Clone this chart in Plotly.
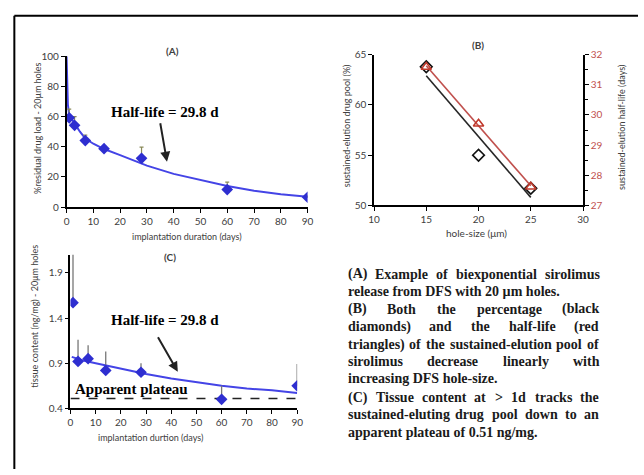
import plotly.graph_objects as go

# ---------------- data ----------------
# Panel A: residual drug load (%) vs implantation duration (days)
a_days = [1, 3, 7, 14, 28, 60, 90]
a_load = [59.2, 54.2, 44.1, 38.7, 32.3, 11.6, 6.5]
a_err_plus = [5.8, 5.8, 3.6, 1.3, 7.5, 5.0, 0.8]
a_fit_days = [0, 0.2, 0.5, 1, 2, 3, 5, 7, 10, 14, 20, 30, 40, 50, 60, 70, 80, 90]
a_fit_load = [100, 82, 68, 61, 58, 55.5, 50, 45.5, 42, 38.5, 34.5, 27.5, 22, 17.8, 14, 10.8, 8.5, 6.9]
a_ticks = [0, 10, 20, 30, 40, 50, 60, 70, 80, 90]

# Panel B: hole size vs sustained-elution pool and half-life
b_hole = [15, 20, 25]
b_pool = [63.8, 55.0, 51.7]
b_halflife = [31.59, 29.71, 27.62]
b_trend_x = [15, 25]
b_pool_trend = [62.9, 50.8]
b_half_trend = [31.63, 27.65]

# Panel C: tissue content vs implantation duration
c_days = [1, 3, 7, 14, 28, 60, 90]
c_tissue = [1.57, 0.92, 0.95, 0.82, 0.80, 0.50, 0.65]
c_err_plus = [0.8, 0.24, 0.15, 0.21, 0.10, 0.15, 0.24]
c_fit_days = [0.5, 5, 10, 20, 30, 40, 50, 60, 70, 80, 90]
c_fit = [0.97, 0.93, 0.90, 0.84, 0.78, 0.73, 0.69, 0.65, 0.62, 0.60, 0.57]
c_plateau_x = [0, 90]
c_plateau = [0.51, 0.51]
c_yticks = [0.4, 0.9, 1.4, 1.9]

caption_lines = [
    ("(A) Example of biexponential sirolimus", True),
    ("release from DFS with 20 µm holes.", False),
    ("(B) Both the percentage (black", True),
    ("diamonds) and the half-life (red", True),
    ("triangles) of the sustained-elution pool of", True),
    ("sirolimus decrease linearly with", True),
    ("increasing DFS hole-size.", False),
    ("(C) Tissue content at > 1d tracks the", True),
    ("sustained-eluting drug pool down to an", True),
    ("apparent plateau of 0.51 ng/mg.", False),
]
caption_y = [275, 292, 311, 329, 347, 364, 382, 402, 419, 437]

# ---------------- layout helpers ----------------
W, H = 644, 475
def px(x): return x / W
def py(y): return 1 - y / H

BLUE = "#2E2ED0"
FIT = "#4444E6"
RED = "#C0392B"
TICKC = "#404040"
SANS = "Lato"
SERIF = "Liberation Serif"

fig = go.Figure()

# Panel A
fig.add_trace(go.Scatter(x=a_fit_days, y=a_fit_load, mode="lines",
                         line=dict(color=FIT, width=2), xaxis="x", yaxis="y", showlegend=False))
fig.add_trace(go.Scatter(x=a_days, y=a_load, mode="markers",
                         marker=dict(symbol="diamond", size=9, color=BLUE),
                         error_y=dict(type="data", symmetric=False, array=a_err_plus,
                                      arrayminus=[0]*len(a_days), color="#8a8a5a", thickness=1.2, width=2),
                         xaxis="x", yaxis="y", showlegend=False))

# Panel B
fig.add_trace(go.Scatter(x=b_trend_x, y=b_pool_trend, mode="lines",
                         line=dict(color="#262626", width=1.6), xaxis="x2", yaxis="y2", showlegend=False))
fig.add_trace(go.Scatter(x=b_hole, y=b_pool, mode="markers",
                         marker=dict(symbol="diamond-open", size=9, color="#111111", line=dict(width=1.6)),
                         xaxis="x2", yaxis="y2", showlegend=False))
fig.add_trace(go.Scatter(x=b_trend_x, y=b_half_trend, mode="lines",
                         line=dict(color="#C0504D", width=1.6), xaxis="x2", yaxis="y3", showlegend=False))
fig.add_trace(go.Scatter(x=b_hole, y=b_halflife, mode="markers",
                         marker=dict(symbol="triangle-up-open", size=9, color=RED, line=dict(width=1.6)),
                         xaxis="x2", yaxis="y3", showlegend=False))

# Panel C
fig.add_trace(go.Scatter(x=c_plateau_x, y=c_plateau, mode="lines",
                         line=dict(color="#222222", width=1.5, dash="dash"), xaxis="x4", yaxis="y4", showlegend=False))
fig.add_trace(go.Scatter(x=c_fit_days, y=c_fit, mode="lines",
                         line=dict(color=FIT, width=2), xaxis="x4", yaxis="y4", showlegend=False))
fig.add_trace(go.Scatter(x=c_days, y=c_tissue, mode="markers",
                         marker=dict(symbol="diamond", size=9, color=BLUE),
                         error_y=dict(type="data", symmetric=False, array=c_err_plus,
                                      arrayminus=[0]*len(c_days), color="#777777", thickness=1.3, width=0),
                         xaxis="x4", yaxis="y4", showlegend=False))

axis_common = dict(showline=True, linecolor="black", linewidth=1.5, ticks="outside",
                   ticklen=4, tickcolor="black", tickwidth=1.2, showgrid=False, zeroline=False,
                   tickfont=dict(family=SANS, size=10, color=TICKC))

fig.update_layout(
    width=W, height=H, margin=dict(l=0, r=0, t=0, b=0),
    paper_bgcolor="white", plot_bgcolor="rgba(0,0,0,0)",
    xaxis=dict(domain=[px(61.7), px(307.3)], range=[0, 90], tickvals=a_ticks, anchor="y", **axis_common),
    yaxis=dict(domain=[py(205.7), py(50.7)], range=[0, 100], dtick=20, anchor="x", **axis_common),
    xaxis2=dict(domain=[px(375), px(588)], range=[10, 30], dtick=5, anchor="y2", **axis_common),
    yaxis2=dict(domain=[py(204), py(49)], range=[50, 65], dtick=5, anchor="x2", **axis_common),
    yaxis3=dict(overlaying="y2", side="right", range=[27, 32], dtick=1, anchor="x2",
                showline=True, linecolor="black", linewidth=1.5, ticks="outside", ticklen=4,
                tickcolor="black", tickwidth=1.2, showgrid=False, zeroline=False,
                minor=dict(ticks="outside", dtick=0.5, ticklen=3, tickcolor="black"),
                tickfont=dict(family=SANS, size=10, color="#C0504D")),
    xaxis4=dict(domain=[px(65.7), px(296.7)], range=[0, 90], tickvals=a_ticks, anchor="y4", **axis_common),
    yaxis4=dict(domain=[py(412.7), py(254.7)], range=[0.4, 2.1], tickvals=c_yticks,
                ticktext=[f"{v:.1f}" for v in c_yticks], anchor="x4", **axis_common),
)

ann = []
def label(x, y, text, size=9, color=TICKC, angle=0, family=SANS, bold=False):
    ann.append(dict(x=px(x), y=py(y), xref="paper", yref="paper", text=(f"<b>{text}</b>" if bold else text),
                    showarrow=False, textangle=angle, xanchor="center", yanchor="middle",
                    font=dict(family=family, size=size, color=color)))

# panel titles
label(170, 45, "(A)", size=10, bold=True)
label(481, 39, "(B)", size=10, bold=True)
label(167, 257, "(C)", size=10, bold=True)
# axis titles
label(184, 236, "implantation duration (days)", size=9)
label(32, 124, "%residual drug load - 20μm holes", size=9, angle=-90)
label(479, 232, "hole-size (μm)", size=10)
label(347, 122, "sustained-elution drug pool (%)", size=9, angle=-90)
label(627, 124, "sustained-elution half-life (days)", size=9, angle=-90)
label(147, 443, "implantation durtion (days)", size=9)
label(29, 318, "tissue content (ng/mg) - 20μm holes", size=9, angle=-90)
# big serif annotations
label(162, 108, "Half-life = 29.8 d", size=15, color="black", family=SERIF, bold=True)
label(162, 322, "Half-life = 29.8 d", size=15, color="black", family=SERIF, bold=True)
label(128, 393, "Apparent plateau", size=15, color="black", family=SERIF, bold=True)

# arrows
ann.append(dict(x=37.5, y=30.1, ax=34.9, ay=56.6, xref="x", yref="y", axref="x", ayref="y",
                text="", showarrow=True, arrowhead=2, arrowsize=1, arrowwidth=2, arrowcolor="#222222"))
ann.append(dict(x=42.6, y=0.805, ax=34.4, ay=1.203, xref="x4", yref="y4", axref="x4", ayref="y4",
                text="", showarrow=True, arrowhead=2, arrowsize=1, arrowwidth=2, arrowcolor="#222222"))

# justified caption (Times-Bold metrics)
TB = {" ": 250, "(": 333, ")": 333, ".": 250, "-": 333, "/": 278, ">": 570, "µ": 556,
      "A": 722, "B": 667, "C": 722, "D": 722, "E": 667, "F": 611, "S": 556, "T": 667,
      "a": 500, "b": 556, "c": 444, "d": 556, "e": 444, "f": 333, "g": 500, "h": 556, "i": 278,
      "j": 333, "k": 556, "l": 278, "m": 833, "n": 556, "o": 500, "p": 556, "q": 556, "r": 444,
      "s": 389, "t": 333, "u": 556, "v": 500, "w": 722, "x": 500, "y": 500, "z": 444}
FS = 14
def wlen(word):
    return sum(TB.get(ch, 500) for ch in word) / 1000 * FS

X0, X1 = 347, 603
for (line, just), yy in zip(caption_lines, caption_y):
    words = line.split(" ")
    if just and len(words) > 1:
        widths = [wlen(w) for w in words]
        gap = (X1 - X0 - sum(widths)) / (len(words) - 1)
        xx = X0
        for w, wd in zip(words, widths):
            ann.append(dict(x=px(xx), y=py(yy), xref="paper", yref="paper",
                            text="<b>" + w.replace(">", "&gt;") + "</b>", showarrow=False,
                            xanchor="left", yanchor="middle", borderpad=0,
                            font=dict(family=SERIF, size=FS, color="#1a1a1a")))
            xx += wd + gap
    else:
        ann.append(dict(x=px(X0), y=py(yy), xref="paper", yref="paper",
                        text="<b>" + line + "</b>", showarrow=False,
                        xanchor="left", yanchor="middle", borderpad=0,
                        font=dict(family=SERIF, size=FS, color="#1a1a1a")))

fig.update_layout(annotations=ann)

# frame lines
fig.update_layout(shapes=[
    dict(type="line", xref="paper", yref="paper", x0=px(8.5), x1=1, y0=py(9), y1=py(9),
         line=dict(color="black", width=2)),
    dict(type="line", xref="paper", yref="paper", x0=px(8.5), x1=px(8.5), y0=py(9), y1=0,
         line=dict(color="black", width=2)),
])

fig.write_html("out.html", config={"displayModeBar": False},
               post_script="document.body.style.margin='0';document.body.style.overflow='hidden';")
